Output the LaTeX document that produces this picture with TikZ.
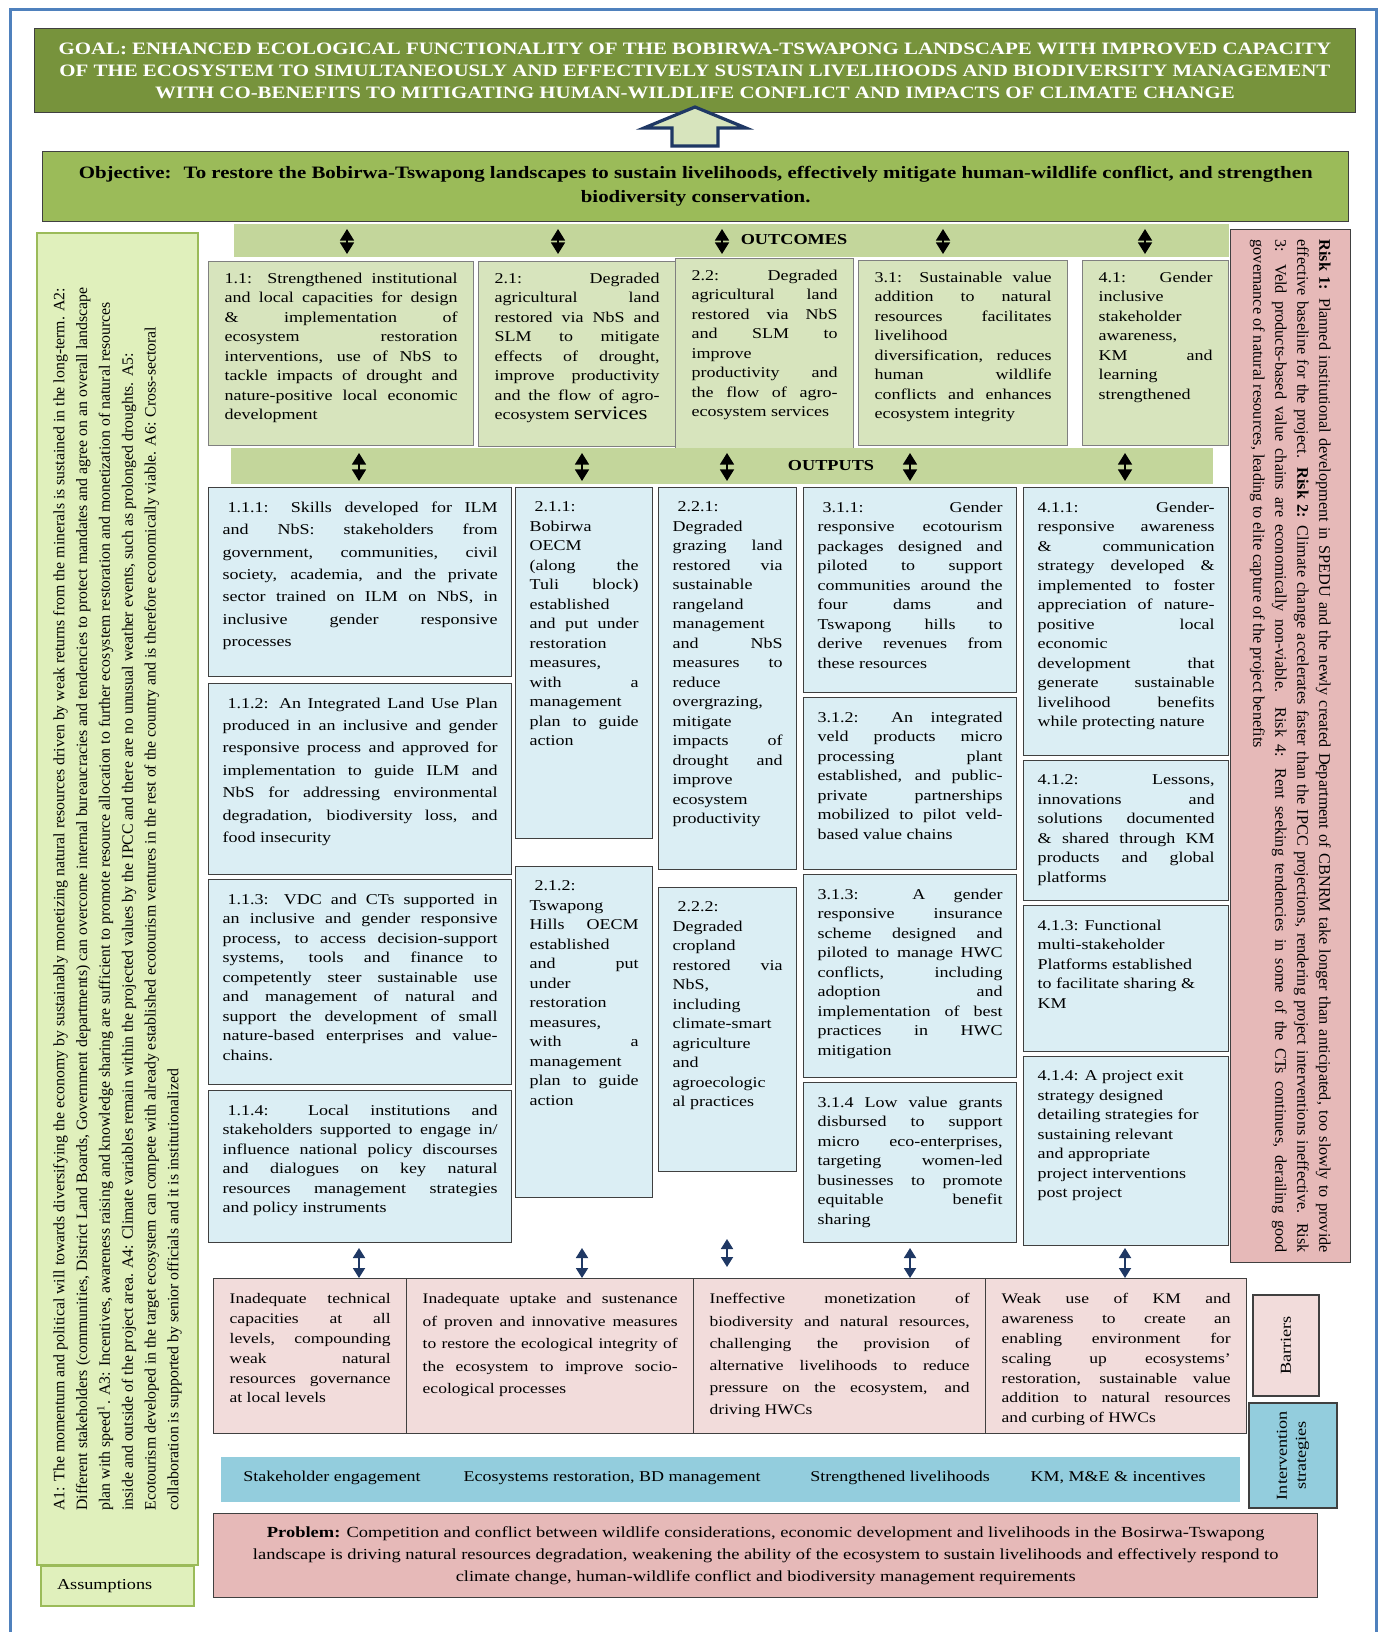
\documentclass[tikz,border=0pt]{standalone}
\usepackage{fontspec}
\setmainfont{Liberation Serif}[FakeStretch=1.2]
\newfontfamily\rotfont{Liberation Serif}
\usetikzlibrary{arrows.meta}
\definecolor{goalgreen}{HTML}{77933C}
\definecolor{objgreen}{HTML}{9BBB59}
\definecolor{bandgreen}{HTML}{C3D69B}
\definecolor{outcomefill}{HTML}{D7E4BD}
\definecolor{outputfill}{HTML}{DBEEF4}
\definecolor{barrierfill}{HTML}{F2DCDB}
\definecolor{riskfill}{HTML}{E6B9B8}
\definecolor{interfill}{HTML}{93CDDD}
\definecolor{assumfill}{HTML}{E0F0BC}
\definecolor{assumline}{HTML}{9BBB59}
\definecolor{frameblue}{HTML}{4F81BD}
\definecolor{navy}{HTML}{1F3864}
\definecolor{boxline}{HTML}{404040}
\hyphenpenalty=10000
\exhyphenpenalty=10000
\tolerance=10000
\hbadness=10000
\vbadness=10000
\newcommand{\topcell}[3]{\parbox[t][#2][t]{#1}{#3}}
\tikzstyle{goalbox} = [draw=boxline, fill=goalgreen, anchor=north west, text=white, align=center, font=\fontsize{8.7}{11}\selectfont\bfseries]
\tikzstyle{objbox} = [draw=boxline, line width=0.7pt, fill=objgreen, anchor=north west, align=center, font=\fontsize{8.7}{12}\selectfont\bfseries]
\tikzstyle{band} = [fill=bandgreen, anchor=north west, inner sep=0pt]
\tikzstyle{bandlabel} = [font=\fontsize{7.6}{9}\selectfont\bfseries]
\tikzstyle{outcomebox} = [draw=gray, fill=outcomefill, line width=0.6pt, anchor=north west, inner xsep=8pt, inner ysep=5.5pt, font=\fontsize{7.5}{9.75}\selectfont]
\tikzstyle{outbox} = [draw=boxline, fill=outputfill, line width=0.7pt, anchor=north west, inner xsep=7pt, inner ysep=7pt, font=\fontsize{7.5}{9.75}\selectfont]
\tikzstyle{barrierbox} = [draw=boxline, fill=barrierfill, line width=0.7pt, anchor=north west, inner xsep=8pt, inner ysep=7.5pt, font=\fontsize{7.3}{9.9}\selectfont]
\tikzstyle{sidelabel} = [draw=boxline, line width=0.7pt, rotate=90, align=center, font=\fontsize{7.6}{9.5}\selectfont]
\tikzstyle{stratlabel} = [font=\fontsize{7.5}{9}\selectfont]
\tikzstyle{assumbox} = [draw=assumline, fill=assumfill, line width=1pt]
\tikzstyle{bandarrow} = [line width=0.8pt, arrows={Triangle[width=7pt,length=5.8pt]-Triangle[width=7pt,length=5.8pt]}]
\tikzstyle{navyarrow} = [draw=navy, fill=navy, line width=0.9pt, arrows={Triangle[width=6pt,length=5pt]-Triangle[width=6pt,length=5pt]}]
\begin{document}
\begin{tikzpicture}[x=0.5pt, y=-0.5pt]
		\fill[white] (0,0) rectangle (1381,1632);
		\useasboundingbox (0,0) rectangle (1381,1632);
		\draw[frameblue, line width=1.5pt] (10,1632) -- (10,10) -- (1376,10) -- (1376,1632);
		
		% goal and objective
		\node [goalbox, minimum width=660.5pt, minimum height=42pt] (goal) at (34,28) {GOAL: ENHANCED ECOLOGICAL FUNCTIONALITY OF THE BOBIRWA-TSWAPONG LANDSCAPE WITH IMPROVED CAPACITY\\OF THE ECOSYSTEM TO SIMULTANEOUSLY AND EFFECTIVELY SUSTAIN LIVELIHOODS AND BIODIVERSITY MANAGEMENT\\WITH CO-BENEFITS TO MITIGATING HUMAN-WILDLIFE CONFLICT AND IMPACTS OF CLIMATE CHANGE};
		\draw [draw=navy, fill=outcomefill, line width=1.6pt] (695,107) -- (746,128) -- (718,128) -- (718,146) -- (672,146) -- (672,128) -- (644,128) -- cycle;
		\node [objbox, minimum width=653pt, minimum height=35pt] (obj) at (42,151) {Objective:~ To restore the Bobirwa-Tswapong landscapes to sustain livelihoods, effectively mitigate human-wildlife conflict, and strengthen\\biodiversity conservation.};
		
		% outcomes
		\node [band, minimum width=497.5pt, minimum height=16.5pt] (ocband) at (234,224) {};
		\node [bandlabel] (oclabel) at (794,240) {OUTCOMES};
		\coordinate (ca1) at (347,229);
		\coordinate (ca2) at (558,229);
		\coordinate (ca3) at (722,229);
		\coordinate (ca4) at (943,229);
		\coordinate (ca5) at (1145,229);
		\draw [bandarrow] (ca1) -- ++(0,25);
		\draw [bandarrow] (ca2) -- ++(0,25);
		\draw [bandarrow] (ca3) -- ++(0,25);
		\draw [bandarrow] (ca4) -- ++(0,25);
		\draw [bandarrow] (ca5) -- ++(0,25);
		
		\node [outcomebox] (oc11) at (208,261) {\topcell{116.5pt}{81pt}{1.1: Strengthened institutional\linebreak and local capacities for design\linebreak \& implementation of\linebreak ecosystem restoration\linebreak interventions, use of NbS to\linebreak tackle impacts of drought and\linebreak nature-positive local economic\linebreak development}};
		\node [outcomebox] (oc21) at (478,261) {\topcell{82.5pt}{81.5pt}{2.1: Degraded\linebreak agricultural land\linebreak restored via NbS and\linebreak SLM to mitigate\linebreak effects of drought,\linebreak improve productivity\linebreak and the flow of agro-\linebreak ecosystem {\fontsize{9.5}{9.75}\selectfont services}}};
		\node [outcomebox] (oc22) at (675,258) {\topcell{73pt}{84pt}{2.2: Degraded\linebreak agricultural land\linebreak restored via NbS\linebreak and SLM to\linebreak improve\linebreak productivity and\linebreak the flow of agro-\linebreak ecosystem services}};
		\node [outcomebox] (oc31) at (858,260) {\topcell{88.5pt}{81.5pt}{3.1: Sustainable value\linebreak addition to natural\linebreak resources facilitates\linebreak livelihood\linebreak diversification, reduces\linebreak human wildlife\linebreak conflicts and enhances\linebreak ecosystem integrity}};
		\node [outcomebox] (oc41) at (1082,260) {\topcell{57pt}{81.5pt}{4.1: Gender\linebreak inclusive\linebreak stakeholder\linebreak awareness,\linebreak KM and\linebreak learning\linebreak strengthened}};
		
		% outputs
		\node [band, minimum width=491pt, minimum height=18pt] (opband) at (231,448) {};
		\node [bandlabel] (oplabel) at (831,466) {OUTPUTS};
		\coordinate (pa1) at (359,453);
		\coordinate (pa2) at (582,453);
		\coordinate (pa3) at (727,453);
		\coordinate (pa4) at (910,453);
		\coordinate (pa5) at (1125,453);
		\draw [bandarrow] (pa1) -- ++(0,28);
		\draw [bandarrow] (pa2) -- ++(0,28);
		\draw [bandarrow] (pa3) -- ++(0,28);
		\draw [bandarrow] (pa4) -- ++(0,28);
		\draw [bandarrow] (pa5) -- ++(0,28);
		
		\node [outbox, font=\fontsize{7.5}{11.2}\selectfont] (o111) at (208,487) {\topcell{137.5pt}{80.5pt}{\hspace*{2.5pt}1.1.1: Skills developed for ILM\linebreak and NbS: stakeholders from\linebreak government, communities, civil\linebreak society, academia, and the private\linebreak sector trained on ILM on NbS, in\linebreak inclusive gender responsive\linebreak processes}};
		\node [outbox, font=\fontsize{7.5}{11.2}\selectfont] (o112) at (208,683) {\topcell{137.5pt}{81.5pt}{\hspace*{2.5pt}1.1.2: An Integrated Land Use Plan\linebreak produced in an inclusive and gender\linebreak responsive process and approved for\linebreak implementation to guide ILM and\linebreak NbS for addressing environmental\linebreak degradation, biodiversity loss, and\linebreak food insecurity}};
		\node [outbox] (o113) at (208,879) {\topcell{137.5pt}{88.5pt}{\hspace*{2.5pt}1.1.3: VDC and CTs supported in\linebreak an inclusive and gender responsive\linebreak process, to access decision-support\linebreak systems, tools and finance to\linebreak competently steer sustainable use\linebreak and management of natural and\linebreak support the development of small\linebreak nature-based enterprises and value-\linebreak chains.}};
		\node [outbox] (o114) at (208,1090) {\topcell{137.5pt}{62pt}{\hspace*{2.5pt}1.1.4: Local institutions and\linebreak stakeholders supported to engage in/\linebreak influence national policy discourses\linebreak and dialogues on key natural\linebreak resources management strategies\linebreak and policy instruments}};
		
		\node [outbox] (o211) at (515,487) {\topcell{54.5pt}{161.5pt}{\hspace*{2.5pt}2.1.1:\linebreak Bobirwa\linebreak OECM\linebreak (along the\linebreak Tuli block)\linebreak established\linebreak and put under\linebreak restoration\linebreak measures,\linebreak with a\linebreak management\linebreak plan to guide\linebreak action}};
		\node [outbox] (o212) at (515,866) {\topcell{54.5pt}{151.5pt}{\hspace*{2.5pt}2.1.2:\linebreak Tswapong\linebreak Hills OECM\linebreak established\linebreak and put\linebreak under\linebreak restoration\linebreak measures,\linebreak with a\linebreak management\linebreak plan to guide\linebreak action}};
		
		\node [outbox] (o221) at (658,487) {\topcell{55pt}{177pt}{\hspace*{2.5pt}2.2.1:\linebreak Degraded\linebreak grazing land\linebreak restored via\linebreak sustainable\linebreak rangeland\linebreak management\linebreak and NbS\linebreak measures to\linebreak reduce\linebreak overgrazing,\linebreak mitigate\linebreak impacts of\linebreak drought and\linebreak improve\linebreak ecosystem\linebreak productivity}};
		\node [outbox] (o222) at (658,887) {\topcell{55pt}{128pt}{\hspace*{2.5pt}2.2.2:\linebreak Degraded\linebreak cropland\linebreak restored via\linebreak NbS,\linebreak including\linebreak climate-smart\linebreak agriculture\linebreak and\linebreak agroecologic\linebreak al practices}};
		
		\node [outbox] (o311) at (803,487) {\topcell{92.5pt}{88.5pt}{\hspace*{2.5pt}3.1.1: Gender\linebreak responsive ecotourism\linebreak packages designed and\linebreak piloted to support\linebreak communities around the\linebreak four dams and\linebreak Tswapong hills to\linebreak derive revenues from\linebreak these resources}};
		\node [outbox] (o312) at (803,697) {\topcell{92.5pt}{72pt}{3.1.2: An integrated\linebreak veld products micro\linebreak processing plant\linebreak established, and public-\linebreak private partnerships\linebreak mobilized to pilot veld-\linebreak based value chains}};
		\node [outbox] (o313) at (803,874) {\topcell{92.5pt}{87.5pt}{3.1.3: A gender\linebreak responsive insurance\linebreak scheme designed and\linebreak piloted to manage HWC\linebreak conflicts, including\linebreak adoption and\linebreak implementation of best\linebreak practices in HWC\linebreak mitigation}};
		\node [outbox] (o314) at (803,1082) {\topcell{92.5pt}{66pt}{3.1.4 Low value grants\linebreak disbursed to support\linebreak micro eco-enterprises,\linebreak targeting women-led\linebreak businesses to promote\linebreak equitable benefit\linebreak sharing}};
		
		\node [outbox] (o411) at (1023,487) {\topcell{88.5pt}{120pt}{4.1.1: Gender-\linebreak responsive awareness\linebreak \& communication\linebreak strategy developed \&\linebreak implemented to foster\linebreak appreciation of nature-\linebreak positive local\linebreak economic\linebreak development that\linebreak generate sustainable\linebreak livelihood benefits\linebreak while protecting nature}};
		\node [outbox] (o412) at (1023,760) {\topcell{88.5pt}{56pt}{4.1.2: Lessons,\linebreak innovations and\linebreak solutions documented\linebreak \& shared through KM\linebreak products and global\linebreak platforms}};
		\node [outbox] (o413) at (1023,905) {\topcell{88.5pt}{59pt}{\raggedright 4.1.3: Functional\\multi-stakeholder\\Platforms established\\to facilitate sharing \&\\KM}};
		\node [outbox] (o414) at (1023,1056) {\topcell{88.5pt}{80.5pt}{\raggedright 4.1.4: A project exit\\strategy designed\\detailing strategies for\\sustaining relevant\\and appropriate\\project interventions\\post project}};
		
		% barriers
		\node [barrierbox] (bar1) at (213,1278) {\topcell{80.5pt}{62.5pt}{Inadequate technical\linebreak capacities at all\linebreak levels, compounding\linebreak weak natural\linebreak resources governance\linebreak at local levels}};
		\node [barrierbox, font=\fontsize{7.3}{11.2}\selectfont] (bar2) at (406,1278) {\topcell{127.5pt}{62.5pt}{Inadequate uptake and sustenance\linebreak of proven and innovative measures\linebreak to restore the ecological integrity of\linebreak the ecosystem to improve socio-\linebreak ecological processes}};
		\node [barrierbox, font=\fontsize{7.3}{11.1}\selectfont] (bar3) at (693,1278) {\topcell{130pt}{62.5pt}{Ineffective monetization of\linebreak biodiversity and natural resources,\linebreak challenging the provision of\linebreak alternative livelihoods to reduce\linebreak pressure on the ecosystem, and\linebreak driving HWCs}};
		\node [barrierbox] (bar4) at (985,1278) {\topcell{114.5pt}{62.5pt}{Weak use of KM and\linebreak awareness to create an\linebreak enabling environment for\linebreak scaling up ecosystems'\linebreak restoration, sustainable value\linebreak addition to natural resources\linebreak and curbing of HWCs}};
		
		\coordinate (na1) at (359,1248);
		\coordinate (na2) at (582,1248);
		\coordinate (na3) at (727,1239);
		\coordinate (na4) at (910,1248);
		\coordinate (na5) at (1125,1248);
		\draw [navyarrow] (na1) -- (na1 |- bar1.north);
		\draw [navyarrow] (na2) -- (na2 |- bar2.north);
		\draw [navyarrow] (na3) -- ++(0,28);
		\draw [navyarrow] (na4) -- (na4 |- bar3.north);
		\draw [navyarrow] (na5) -- (na5 |- bar4.north);
		
		\node [sidelabel, fill=barrierfill, minimum width=50.5pt, minimum height=33pt] (barlabel) at (1286,1345.5) {Barriers};
		\node [sidelabel, fill=interfill, minimum width=52.5pt, minimum height=44pt] (intlabel) at (1293,1455.5) {Intervention\\strategies};
		
		% intervention strategies
		\node [fill=interfill, anchor=north west, minimum width=509.5pt, minimum height=22.5pt, inner sep=0pt] (strip) at (221,1457) {};
		\node [stratlabel] (strat1) at (332,1478) {Stakeholder engagement};
		\node [stratlabel] (strat2) at (612,1478) {Ecosystems restoration, BD management};
		\node [stratlabel] (strat3) at (900,1478) {Strengthened livelihoods};
		\node [stratlabel] (strat4) at (1118,1478) {KM, M\&E \& incentives};
		
		% problem
		\node [draw=boxline, line width=0.7pt, fill=riskfill, anchor=north west, minimum width=552pt, minimum height=42pt, align=center, font=\fontsize{7.7}{10.9}\selectfont] (problem) at (213,1513) {\textbf{Problem:} Competition and conflict between wildlife considerations, economic development and livelihoods in the Bosirwa-Tswapong\\landscape is driving natural resources degradation, weakening the ability of the ecosystem to sustain livelihoods and effectively respond to\\climate change, human-wildlife conflict and biodiversity management requirements};
		
		% risks
		\node [draw=boxline, line width=0.7pt, fill=riskfill, rotate=-90, anchor=north west, minimum height=60pt, text width=506.5pt, inner xsep=5pt, align=justify, font=\rotfont\fontsize{8.1}{11}\selectfont] (risk) at (1351,229) {\textbf{Risk 1:} Planned institutional development in SPEDU and the newly created Department of CBNRM take longer than anticipated, too slowly to provide\linebreak effective baseline for the project. \textbf{Risk 2:} Climate change accelerates faster than the IPCC projections, rendering project interventions ineffective. Risk\linebreak 3: Veld products-based value chains are economically non-viable. Risk 4: Rent seeking tendencies in some of the CTs continues, derailing good\linebreak governance of natural resources, leading to elite capture of the project benefits};
		
		% assumptions
		\node [assumbox, rotate=90, anchor=north west, minimum width=666pt, minimum height=80.5pt, align=left, font=\rotfont\fontsize{7.9}{11.4}\selectfont] (assum) at (36,1566) {A1: The momentum and political will towards diversifying the economy by sustainably monetizing natural resources driven by weak returns from the minerals is sustained in the long-term. A2:\\Different stakeholders (communities, District Land Boards, Government departments) can overcome internal bureaucracies and tendencies to protect mandates and agree on an overall landscape\\plan with speed\textsuperscript{1}. A3: Incentives, awareness raising and knowledge sharing are sufficient to promote resource allocation to further ecosystem restoration and monetization of natural resources\\inside and outside of the project area. A4: Climate variables remain within the projected values by the IPCC and there are no unusual weather events, such as prolonged droughts. A5:\\Ecotourism developed in the target ecosystem can compete with already established ecotourism ventures in the rest of the country and is therefore economically viable. A6: Cross-sectoral\\collaboration is supported by senior officials and it is institutionalized};
		\node [assumbox, anchor=north west, text width=60.5pt, inner xsep=8pt, minimum height=20pt, align=left, font=\fontsize{7.6}{9}\selectfont] (assumlabel) at (40,1565) {Assumptions};
		
		\end{tikzpicture}
\end{document}
